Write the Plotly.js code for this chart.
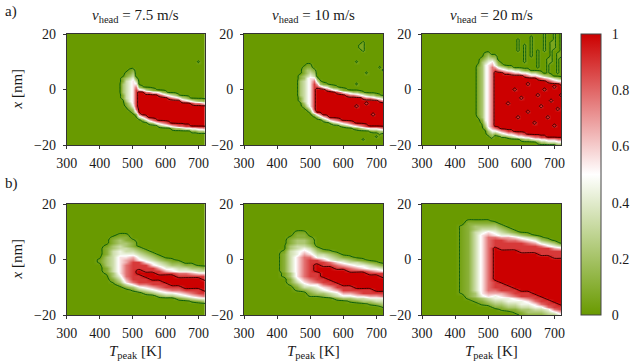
<!DOCTYPE html>
<html>
<head>
<meta charset="utf-8">
<script src="https://cdn.plot.ly/plotly-3.0.1.min.js"></script>
<style>
  html, body { margin: 0; padding: 0; background: #fff; }
  #chart { width: 634px; height: 364px; }
</style>
</head>
<body>
<div id="chart"></div>
<script>
// Peak temperature (K) of each heatmap column
const tempsFine = [300, 310, 320, 330, 340, 350, 360, 370, 380, 390, 400, 410, 420, 430, 440,
  450, 460, 470, 480, 490, 500, 510, 520, 530, 540, 550, 560, 570, 580, 590, 600, 610, 620, 630,
  640, 650, 660, 670, 680, 690, 700, 710, 720];
const tempsCoarse = [300, 320, 340, 360, 380, 400, 420, 440, 460, 480, 500, 520, 540, 560, 580,
  600, 620, 640, 660, 680, 700, 720];
// Position x (nm), from the top of a column string to its bottom
const positions = [20, 19, 18, 17, 16, 15, 14, 13, 12, 11, 10, 9, 8, 7, 6, 5, 4, 3, 2, 1, 0,
  -1, -2, -3, -4, -5, -6, -7, -8, -9, -10, -11, -12, -13, -14, -15, -16, -17, -18, -19, -20];
const speedLabels = ['7.5', '10', '20'];
const rowLabels = ['a)', 'b)'];
const xTicks = [300, 400, 500, 600, 700];
const yTicks = [-20, 0, 20];
const barTicks = [0, 0.2, 0.4, 0.6, 0.8, 1];

// One string per temperature column.
// Groups: x=20..11 | x=10..1 | x=0 | x=-1..-10 | x=-11..-20 (missing tail = zeros)
// '0'..'9' -> d/9, '.' -> faint trace just above zero
const colsA1 = ['0', '0', '0', '0', '0', '0', '0', '0', '0', '0', '0', '0', '0', '0', '0', '0', '0',
  '0000000000 0000001122 2 2110000000',
  '0000000000 0000.12333 3 33321.0000',
  '0000000000 000.123444 4 4444321000',
  '0000000000 0001234555 5 5555542100',
  '0000000000 0000001357 8 8888887410',
  '0000000000 0000000002 6 9999999973',
  '0000000000 000000000. 5 9999999995 1',
  '0000000000 0000000000 3 7999999997 3',
  '0000000000 0000000000 2 7999999999 51',
  '0000000000 0000000000 1 5999999999 72',
  '0000000000 0000000000 . 5999999999 84',
  '0000000000 0000000000 0 4899999999 951',
  '0000000000 0000000000 0 2799999999 962',
  '0000000000 0000000000 0 1599999999 973',
  '0000000000 0000000000 0 0489999999 984',
  '0000000000 0000000000 0 0379999999 9951',
  '0000000000 0000000000 0 0269999999 9962',
  '0000000000 0000000000 0 0.59999999 9972',
  '0000000000 0000000000 0 0037999999 9973',
  '0000000000 0000000000 0 0026999999 9984',
  '0000000000 0000000000 0 0015999999 9984',
  '0000000000 0000000000 0 0004899999 99951',
  '0000000000 0000000000 0 0003799999 99951',
  '0000000000 .000000000 0 0002799999 99962',
  '0000000000 0000000000 0 0002699999 99962',
  '0000000000 0000000000 0 0001599999 99972'];

const colsA2 = ['0', '0', '0', '0', '0', '0', '0', '0', '0', '0', '0', '0', '0', '0', '0', '0', '0',
  '0000000000 0000011222 2 2211000000',
  '0000000000 00.1122333 3 3333210000',
  '0000000000 0.12234444 4 4444431000',
  '0000000000 0.12345555 5 5555553100',
  '0000000000 0001235788 8 8888888620',
  '0000000000 0000001368 9 9999999951',
  '0000000000 0000000.27 9 9999999973',
  '0000000000 0000000015 9 9999999995 1',
  '0000000000 00000000.4 8 9999999997 3',
  '0000000000 0000000002 7 9999999999 5.',
  '0000000000 0000000001 5 9999999999 62',
  '0000000000 000000000. 4 8999999999 73',
  '0000000000 0000000000 2 7999999999 84.',
  '0000000000 0000000000 1 5999999999 951',
  '0000000000 0000000000 . 4899999999 962',
  '0000000000 0000000000 0 3799999999 973',
  '0000000000 0000000000 0 2799999999 984.',
  '0000000000 .0000000.0 0 2699989999 9951',
  '0000..0000 0000000000 0 1599999999 9962',
  '000....000 0000000000 0 .489999999 9973000.00',
  '0000000000 0000.00000 0 0379899999 9984',
  '0000000000 0000000000 0 0279999999 9995.',
  '0000000000 0000000000 0 0269999989 99951',
  '0000000000 0000000000 0 0159999999 999510.000',
  '0000000000 00.0000000 0 0.48999999 99962.0000',
  '0000000000 000.000000 0 0037999999 99972'];

const colsA3 = ['0', '0', '0', '0', '0', '0', '0', '0', '0', '0', '0', '0', '0', '0', '0', '0', '0',
  '0000000000 0.11111111 1 111111111.',
  '0000000001 2222222222 2 2222222222 1.',
  '0000000.12 3444444444 4 4444444444 4321',
  '0000000123 4555555555 5 5555555555 555421',
  '0000000013 5677777777 7 7777777777 7776421',
  '0000000012 3468999999 9 9999999999 9997410000',
  '0000000000 1247999999 9 9999999999 9998520000',
  '0000000000 0136999999 9 9999999999 999963.000',
  '0000000000 0025899999 9 9999999999 999974.000',
  '0000000000 0014899999 9 9999899999 9999851000',
  '0000000000 0014799999 9 9999999999 9999852000',
  '0000000000 0003699999 8 9999999999 9999963000',
  '00.....000 0003699999 9 9999999998 9999974000',
  '0000000000 0002599999 9 9989999999 9999974100',
  '0000...... .001589999 9 9999999999 9999985200',
  '0000000000 0001479989 9 9999999899 9999995200',
  '0........0 0000369999 9 9999999999 9999996300',
  '0000000000 0000369999 9 9999999999 9899997400',
  '000000.... ...0258999 9 9899999999 9999997410',
  '0000000000 0000147999 9 9999989999 9999998520',
  '.......000 0000036999 8 9999999999 9999998520',
  '000000000. .....25899 9 9999999998 9999999630',
  '000....... .000014799 9 9998999999 9999999630',
  '......0000 0000003698 9 9999999999 9989999630',
  '0000000... .....02599 9 9999998999 9999999741',
  '.........0 0000001589 9 9899999999 9999999741'];

const colsB1 = ['0', '0', '0', '0', '0',
  '0000000000 0000000000 . .000000000',
  '0000000000 00000.1112 2 2211.00000',
  '0000000000 00.1122333 3 3333221.00',
  '0000000000 0.12233445 5 5555543210',
  '0000000000 0.11223345 6 6777776531',
  '0000000000 000.112346 7 8888888752 .',
  '0000000000 0000001234 5 8889988874 2',
  '0000000000 0000000123 4 5888998875 31',
  '0000000000 0000000012 3 4588999886 42',
  '0000000000 0000000001 2 3468899887 531',
  '0000000000 0000000000 1 2346899988 642',
  '0000000000 0000000000 . 1245899998 742',
  '0000000000 0000000000 0 1234789998 7531',
  '0000000000 0000000000 0 0134789999 8642',
  '0000000000 0000000000 0 0124689999 8753.',
  '0000000000 0000000000 0 0023589999 88641',
  '0000000000 0000000000 0 0013588999 98742'];

const colsB2 = ['0', '0', '0', '0', '0', '0',
  '0000000000 0000000.11 1 1111..0000',
  '0000000000 00.1122333 3 33332211.0',
  '0000000000 .112233445 5 5555554321 .',
  '0000000000 .112234567 7 7777776543 1',
  '0000000000 00.1123457 8 8888887653 21.',
  '0000000000 0000001234 8 8999888754 32.',
  '0000000000 0000000134 6 8899998875 421',
  '0000000000 0000000.23 4 7899999886 532',
  '0000000000 0000000012 3 5789999988 6431',
  '0000000000 0000000001 3 4689999998 8642',
  '0000000000 000000000. 2 3578999998 8642.',
  '0000000000 0000000000 1 3468999999 87531',
  '0000000000 0000000000 . 2458999999 88532',
  '0000000000 0000000000 0 1347899999 88642.',
  '0000000000 0000000000 0 .246899999 986431',
  '0000000000 0000000000 0 0135889999 987432.'];

const colsB3 = ['0', '0', '0', '0', '0', '0',
  '00000000.. .......... . .......... ..',
  '000000.111 1111111111 1 1111111111 111.',
  '000000.122 3333333333 3 3333333333 3221.',
  '000000.123 4555555555 5 5555555555 55421.',
  '000000.123 5677777777 7 7777777777 765321',
  '0000000123 4578889999 9 9999999888 7644321000',
  '0000000012 3468888999 9 9999999988 8654321.00',
  '0000000001 2467888999 9 9999999998 8764432100',
  '0000000000 1357888999 9 9999999999 88754321.0',
  '0000000000 0246888899 9 9999999999 988644321.',
  '0000000000 0135788899 9 9999999999 9887543221',
  '0000000000 0024688899 9 9999999999 9988754321',
  '0000000000 00.2478889 9 9999999999 9998874321',
  '0000000000 0001358889 9 9999999999 9999887432',
  '0000000000 0000246888 9 9999999999 9999988742',
  '0000000000 0000035888 9 9999999999 9999998864'];

const GREEN = '#699a00';
const RED = '#cc0000';
const LOW_LINE = '#0d5e0d';
const HIGH_LINE = '#3a0000';
const FONT = 'Liberation Serif, serif';

// turn the column strings into numbers (one array per temperature)
function decode(cols) {
  return cols.map((s) => {
    const c = s.replace(/ /g, '').padEnd(positions.length, '0').slice(0, positions.length);
    return Array.from(c).map((ch) => (ch === '.' ? 0.06 : Number(ch) / 9));
  });
}

const panels = [
  { cols: colsA1, temps: tempsFine },
  { cols: colsA2, temps: tempsFine },
  { cols: colsA3, temps: tempsFine },
  { cols: colsB1, temps: tempsCoarse },
  { cols: colsB2, temps: tempsCoarse },
  { cols: colsB3, temps: tempsCoarse },
];

// plot areas in pixels of the 634x364 figure
const W = 634;
const H = 364;
const colPx = [[66.7, 205], [244, 383], [422, 561]];
const rowPx = [[34, 145], [204, 315]];
const xDom = colPx.map(([a, b]) => [a / W, b / W]);
const yDom = rowPx.map(([a, b]) => [1 - b / H, 1 - a / H]);

const traces = [];
const layout = {
  width: W,
  height: H,
  margin: { l: 0, r: 0, t: 0, b: 0 },
  paper_bgcolor: '#ffffff',
  plot_bgcolor: '#ffffff',
  font: { family: FONT, size: 14, color: '#1a1a1a' },
  showlegend: false,
  coloraxis: {
    cmin: 0,
    cmax: 1,
    colorscale: [[0, GREEN], [0.5, '#ffffff'], [1, RED]],
    colorbar: {
      x: 581 / W, xanchor: 'left', xref: 'paper',
      y: 1 - 315 / H, yanchor: 'bottom', yref: 'paper',
      len: 281 / H, lenmode: 'fraction',
      thickness: 20, thicknessmode: 'pixels',
      xpad: 0, ypad: 0,
      outlinewidth: 1, outlinecolor: '#444',
      tickvals: barTicks,
      ticks: 'outside', ticklen: 8, tickcolor: 'rgba(0,0,0,0)',
      tickfont: { family: FONT, size: 14 },
    },
  },
  annotations: [],
};

panels.forEach((p, i) => {
  const id = i === 0 ? '' : String(i + 1);
  const z = decode(p.cols);
  const common = { x: p.temps, y: positions, z, transpose: true, xaxis: 'x' + id, yaxis: 'y' + id, hoverinfo: 'skip' };

  traces.push({ ...common, type: 'heatmap', coloraxis: 'coloraxis', zsmooth: 'best' });
  traces.push({
    ...common, type: 'contour', showscale: false, autocontour: false,
    contours: { coloring: 'none', start: 0.04, end: 0.04, size: 1 },
    line: { color: LOW_LINE, width: 1, smoothing: 0.8 },
  });
  traces.push({
    ...common, type: 'contour', showscale: false, autocontour: false,
    contours: { coloring: 'none', start: 0.95, end: 0.95, size: 1 },
    line: { color: HIGH_LINE, width: 1, smoothing: 0.8 },
  });

  const row = i < 3 ? 0 : 1;
  const col = i % 3;
  const axisStyle = {
    ticks: 'outside', ticklen: 3, tickcolor: '#333',
    showline: true, mirror: true, linecolor: '#333', linewidth: 1,
    showgrid: false, zeroline: false,
    tickfont: { family: FONT, size: 14 },
  };
  layout['xaxis' + id] = {
    ...axisStyle, domain: xDom[col], anchor: 'y' + id,
    range: [300, 720], tickvals: xTicks, ticklabelstandoff: 2,
  };
  layout['yaxis' + id] = {
    ...axisStyle, domain: yDom[row], anchor: 'x' + id,
    range: [-20, 20], tickvals: yTicks, ticklabelstandoff: 4,
  };
});

const note = (text, xPx, yPx, extra = {}) => ({
  text, x: xPx / W, y: 1 - yPx / H, xref: 'paper', yref: 'paper',
  xanchor: 'center', yanchor: 'middle',
  showarrow: false, font: { family: FONT, size: 15, color: '#1a1a1a' }, ...extra,
});

speedLabels.forEach((v, j) => {
  const cx = (colPx[j][0] + colPx[j][1]) / 2;
  layout.annotations.push(note(`<i>v</i><sub>head</sub> = ${v} m/s`, cx, 16));
  layout.annotations.push(note('<i>T</i><sub>peak</sub> [K]', cx, 352));
});
rowLabels.forEach((t, r) => {
  layout.annotations.push(note(t, 11, r === 0 ? 11 : 183));
  const cy = (rowPx[r][0] + rowPx[r][1]) / 2;
  layout.annotations.push(note('<i>x</i> [nm]', 16, cy, { textangle: -90 }));
});

Plotly.newPlot('chart', traces, layout, { displayModeBar: false, staticPlot: true });
</script>
</body>
</html>
